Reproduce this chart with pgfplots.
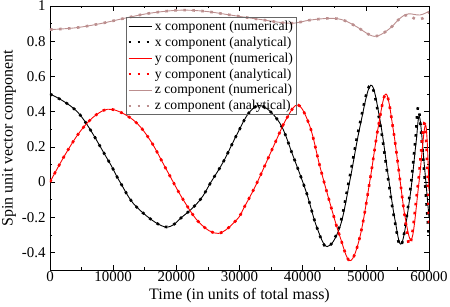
\documentclass[border=0pt]{standalone}
\usepackage{fontspec}
\setmainfont{Liberation Serif}
\usepackage{pgfplots}
\pgfplotsset{compat=1.18}
\definecolor{zcol}{RGB}{188,143,143}
\begin{document}
\begin{tikzpicture}
\begin{axis}[
  scale only axis, width=379bp, height=264bp,
  xmin=0, xmax=60000, ymin=-0.5, ymax=1,
  xtick={0,10000,20000,30000,40000,50000,60000},
  minor xtick={5000,15000,25000,35000,45000,55000},
  ytick={-0.4,-0.2,0,0.2,0.4,0.6,0.8,1},
  minor ytick={-0.3,-0.1,0.1,0.3,0.5,0.7,0.9},
  yticklabels={-0.4,-0.2,0,0.2,0.4,0.6,0.8,1},
  xticklabels={0,10000,20000,30000,40000,50000,60000},
  scaled x ticks=false,
  /pgf/number format/assume math mode=true,
  tick align=inside, major tick length=5bp, minor tick length=2.5bp,
  tick style={black, line width=0.6pt},
  axis line style={line width=0.8pt},
  tick label style={font=\fontsize{15}{16}\selectfont},
  xticklabel style={font=\fontsize{15}{16}\selectfont, inner sep=1.5bp},
  yticklabel style={font=\fontsize{15}{16}\selectfont, xshift=-1bp},
  every axis x label/.style={at={(rel axis cs:0.5,0)}, anchor=base, yshift=-29bp, font=\fontsize{16}{18}\selectfont},
  every axis y label/.style={at={(rel axis cs:0,0.5)}, anchor=center, rotate=90, yshift=41bp, font=\fontsize{16}{18}\selectfont},
  xlabel={Time (in units of total mass)},
  ylabel={Spin unit vector component},
  legend style={at={(0.2005,0.958)}, anchor=north west, draw=black!60, fill=none, line width=0.8pt,
    font=\fontsize{13.7}{15}\selectfont, row sep=1bp, inner xsep=1bp, inner ysep=1.2bp},
  legend cell align=left,
  legend image code/.code={\draw[#1] (0bp,0bp) -- (23bp,0bp);},
  num/.style={line width=0.9pt, smooth, tension=0.6},
  ana/.style={line width=2.6bp, smooth, tension=0.6, dash pattern=on 2.6bp off 6.4bp},
]
% x component (numerical)
\addplot[num, black] coordinates {
(0,0.5) (4550,0.39) (9100,0.13) (11080,0.0) (13650,-0.14) (18200,-0.255)
(21100,-0.193) (23750,-0.102) (25490,0.0) (27440,0.115) (29550,0.267) (31560,0.396)
(33600,0.432) (36410,0.333) (38520,0.144) (40630,-0.064) (42210,-0.254) (43900,-0.367)
(45910,-0.254) (47490,0.011) (49070,0.314) (50800,0.55) (52240,0.352) (53560,0.03)
(54620,-0.216) (55650,-0.35) (56990,-0.083) (57940,0.22) (58500,0.37) (59300,0.08) (60000,-0.2)
};
\addlegendentry{x component (numerical)}
% x component (analytical)
\addplot[ana, black] coordinates {
(0,0.5) (4550,0.39) (9100,0.13) (11080,0.0) (13650,-0.14) (18200,-0.255)
(21100,-0.193) (23750,-0.102) (25490,0.0) (27440,0.115) (29550,0.267) (31560,0.396)
(33600,0.432) (36410,0.333) (38520,0.144) (40630,-0.064) (42210,-0.254) (43850,-0.37)
(45800,-0.254) (47350,0.011) (48950,0.314) (50700,0.55) (52150,0.352) (53480,0.03)
(54550,-0.216) (55600,-0.36) (56900,-0.083) (57850,0.24) (58350,0.42) (59250,0.05) (60000,-0.32)
};
\addlegendentry{x component (analytical)}
% y component (numerical)
\addplot[num, red] coordinates {
(0,0) (2440,0.158) (4880,0.292) (7320,0.382) (9760,0.413)
(13190,0.352) (15830,0.239) (18470,0.068) (21110,-0.102) (23750,-0.235) (26650,-0.292)
(29550,-0.215) (30800,-0.14) (32720,-0.008) (35350,0.2) (37470,0.362) (39300,0.437)
(41160,0.314) (42740,0.087) (44330,-0.121) (45910,-0.311) (47490,-0.447)
(49070,-0.311) (50660,0.011) (51970,0.314) (53200,0.5)
(54350,0.295) (55410,0.011) (56300,-0.216) (57300,-0.32)
(58420,0.0) (59470,0.324) (60000,-0.05)
};
\addlegendentry{y component (numerical)}
% y component (analytical)
\addplot[ana, red] coordinates {
(0,0) (2440,0.158) (4880,0.292) (7320,0.382) (9760,0.413)
(13190,0.352) (15830,0.239) (18470,0.068) (21110,-0.102) (23750,-0.235) (26650,-0.292)
(29550,-0.215) (30800,-0.14) (32720,-0.008) (35350,0.2) (37470,0.362) (39300,0.437)
(41160,0.314) (42740,0.087) (44330,-0.121) (45910,-0.311) (47490,-0.447)
(49070,-0.311) (50660,0.011) (51970,0.314) (53200,0.5)
(54350,0.295) (55410,0.011) (56250,-0.216) (57050,-0.35)
(58300,0.0) (59350,0.33) (60000,-0.25)
};
\addlegendentry{y component (analytical)}
% z component (numerical)
\addplot[num, zcol] coordinates {
(0,0.866) (4000,0.876) (8000,0.9) (12000,0.932) (16000,0.96) (20500,0.976)
(24500,0.97) (28500,0.949) (33000,0.925) (38000,0.902) (41160,0.92) (44330,0.93)
(46430,0.92) (48550,0.882) (50660,0.835) (51970,0.831) (53820,0.873) (55410,0.93)
(56720,0.955) (58570,0.949) (60000,0.97)
};
\addlegendentry{z component (numerical)}
% z component (analytical)
\addplot[ana, zcol] coordinates {
(0,0.866) (4000,0.876) (8000,0.9) (12000,0.932) (16000,0.96) (20500,0.976)
(24500,0.97) (28500,0.949) (33000,0.925) (38000,0.902) (41160,0.92) (44330,0.93)
(46430,0.92) (48550,0.882) (50660,0.835) (51970,0.831) (53820,0.873) (55410,0.93)
(56700,0.95) (57900,0.925) (59000,0.93) (60000,0.965)
};
\addlegendentry{z component (analytical)}
\coordinate (sw) at (rel axis cs:0,0);
\coordinate (ne) at (rel axis cs:1,1);
\end{axis}
\pgfresetboundingbox
\path[use as bounding box] ([shift={(-50bp,-37bp)}]sw) rectangle ([shift={(21bp,6bp)}]ne);
\end{tikzpicture}
\end{document}
